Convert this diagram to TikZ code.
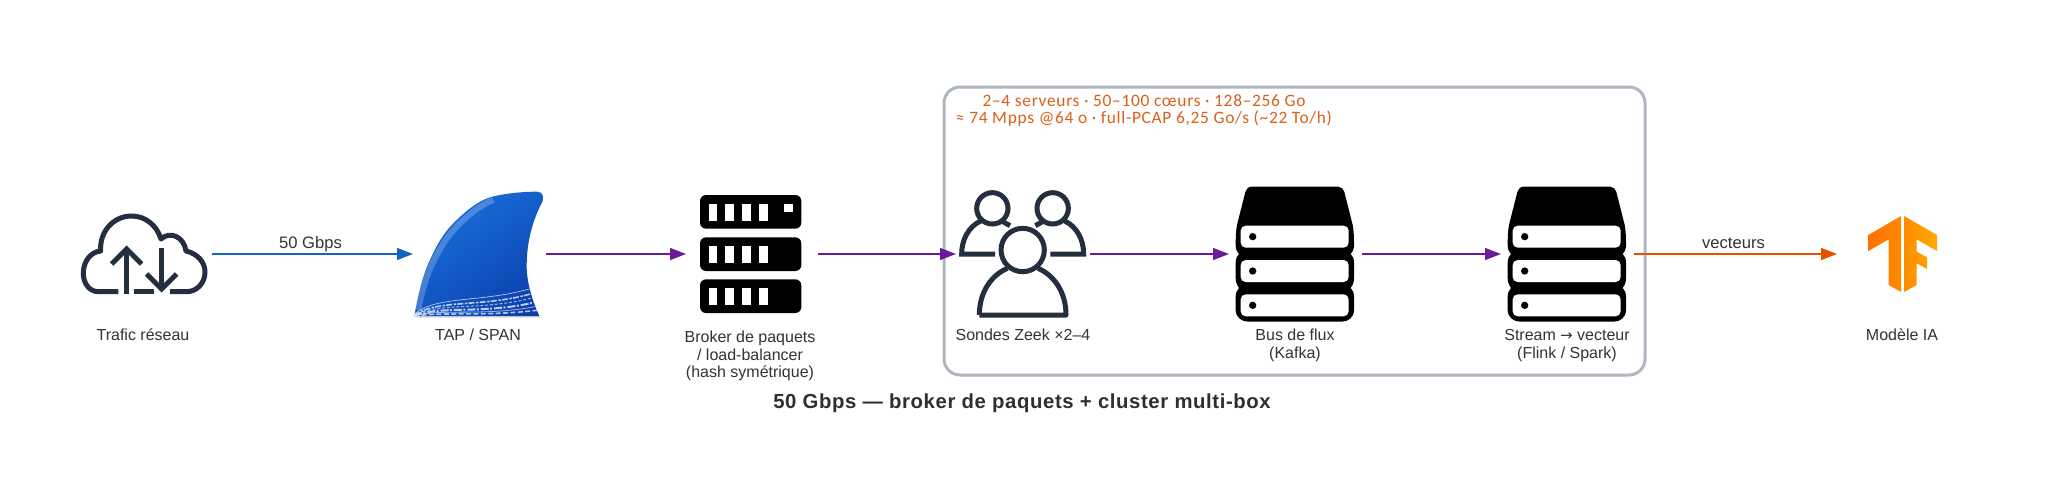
\documentclass[tikz,border=0pt]{standalone}
\usepackage{fontspec}
\setmainfont{Liberation Sans}
\newfontfamily\notefont{Carlito}
\newfontfamily\titlefont[LetterSpace=3]{Liberation Sans}
\newfontfamily\arrowfont{DejaVu Sans}
\usetikzlibrary{arrows.meta,calc}
\definecolor{ink}{HTML}{232F3E}
\definecolor{lbl}{HTML}{333333}
\definecolor{titlecol}{HTML}{2B3033}
\definecolor{notecol}{HTML}{D9601A}
\definecolor{blueflow}{HTML}{1565C0}
\definecolor{purpleflow}{HTML}{6A1B9A}
\definecolor{orangeflow}{HTML}{E65100}
\definecolor{clusterline}{HTML}{AEB6BF}
\definecolor{tfa}{HTML}{FF6F00}
\definecolor{tfb}{HTML}{FFA800}
\definecolor{fintop}{HTML}{1C78E4}
\definecolor{finlow}{HTML}{0A3CA8}
\definecolor{finwave}{HTML}{D8E4F6}
\tikzset{
  zoomed/.style 2 args={shift={(#1,#2)},x=0.166667pt,y=-0.166667pt},
  iconbox/.style={inner sep=0pt,outer sep=0pt,minimum height=66pt,minimum width=#1},
  lab/.style={inner sep=0pt,font=\fontsize{8}{8.7}\selectfont,text=lbl,align=center},
  edgelab/.style={inner sep=0pt,text depth=1.75pt,font=\fontsize{8.3}{9}\selectfont,text=lbl},
  notelab/.style={inner sep=0pt,font=\notefont\addfontfeature{LetterSpace=4}\fontsize{8.7}{10}\selectfont,text=notecol,anchor=base},
  flow/.style={line width=0.7pt,-{Triangle[length=8pt,width=6pt]},draw=#1},
  iconline/.style={draw=ink,line width=2.5pt},
}
\newcommand{\serverstack}[2]{%
  \begin{scope}[zoomed={#1}{#2}]
    \fill[black] (965,320) -- (1225,320) .. controls (1235,320) and (1240,328) .. (1243,336) -- (1268,435) .. controls (1271,450) and (1272,470) .. (1272,495) .. controls (1272,510) and (1266,518) .. (1262,522) .. controls (1268,528) and (1272,535) .. (1272,550) -- (1272,595) .. controls (1272,610) and (1266,618) .. (1262,624) .. controls (1268,630) and (1272,638) .. (1272,650) -- (1272,690) .. controls (1272,712) and (1255,725) .. (1235,725) -- (955,725) .. controls (935,725) and (917,712) .. (917,690) -- (917,650) .. controls (917,638) and (921,630) .. (927,624) .. controls (923,618) and (917,610) .. (917,595) -- (917,550) .. controls (917,535) and (921,528) .. (927,522) .. controls (923,518) and (917,510) .. (917,495) .. controls (917,470) and (918,450) .. (921,435) -- (946,336) .. controls (949,328) and (954,320) .. (965,320) -- cycle;
    \fill[white,rounded corners=2.5pt] (932,437) rectangle (1256,503);
    \fill[white,rounded corners=2.5pt] (932,540) rectangle (1256,606);
    \fill[white,rounded corners=2.5pt] (932,643) rectangle (1256,709);
    \fill[black] (968,470) circle[radius=11];
    \fill[black] (968,573) circle[radius=11];
    \fill[black] (968,676) circle[radius=11];
  \end{scope}}
\begin{document}
\begin{tikzpicture}[x=0.5pt,y=-0.5pt]
\useasboundingbox (0,0) rectangle (2047,498);
\fill[white] (0,0) rectangle (2047,498);
% cluster
\node[draw=clusterline,line width=1.5pt,rounded corners=8pt,inner sep=0pt,minimum width=350.5pt,minimum height=144pt] (cluster) at (1294.5,231) {};
\node[notelab] (note1) at (1144,106) {2–4 serveurs · 50–100 cœurs · 128–256 Go};
\node[notelab] (note2) at (1144,123) {≈ 74 Mpps @64 o · full-PCAP 6,25 Go/s (\textasciitilde22 To/h)};
% anchor boxes
\node[iconbox=69pt] (cloud) at (143,254) {};
\node[iconbox=66.5pt] (fin) at (479.5,254) {};
\node[iconbox=66pt] (broker) at (752,254) {};
\node[iconbox=67pt] (zeek) at (1023,254) {};
\node[iconbox=66.5pt] (kafka) at (1295.5,254) {};
\node[iconbox=66.5pt] (stream) at (1567.5,254) {};
\node[iconbox=65pt] (tf) at (1902,254) {};
% cloud
\begin{scope}[zoomed={60}{170}]
  \draw[iconline,line join=round] (175,365) -- (115,365) .. controls (85,365) and (68,335) .. (70,305) .. controls (72,270) and (95,245) .. (122,243) .. controls (118,185) and (160,138) .. (215,138) .. controls (255,138) and (290,165) .. (303,207) .. controls (330,182) and (372,200) .. (378,243) .. controls (410,250) and (436,275) .. (435,308) .. controls (434,340) and (410,365) .. (380,365) -- (330,365);
  \draw[iconline] (222,365) -- (282,365);
  \draw[iconline] (200,372) -- (200,238);
  \draw[iconline] (155,282) -- (200,237) -- (245,282);
  \draw[iconline] (305,235) -- (305,355);
  \draw[iconline] (260,312) -- (305,357) -- (350,312);
\end{scope}
% fin
\begin{scope}[zoomed={60}{170}]
  \fill[gray!30] (1066,438) -- (1438,438) -- (1446,443) -- (1070,443) -- cycle;
  \begin{scope}
    \clip (1063,438) .. controls (1075,370) and (1090,310) .. (1110,270) .. controls (1130,225) and (1150,190) .. (1180,160) .. controls (1215,125) and (1250,95) .. (1290,82) .. controls (1340,68) and (1400,65) .. (1432,65) .. controls (1450,65) and (1455,85) .. (1442,105) .. controls (1415,160) and (1400,220) .. (1400,290) .. controls (1400,340) and (1420,400) .. (1438,438) -- cycle;
    \shade[top color=fintop,bottom color=finlow,shading angle=35] (1000,0) rectangle (1500,500);
    \draw[white,line width=3pt,opacity=0.22] (1075,420) .. controls (1085,360) and (1105,300) .. (1125,265) .. controls (1145,225) and (1165,195) .. (1195,165) .. controls (1225,135) and (1260,105) .. (1300,90);
    \draw[finwave,line width=0.35pt,opacity=0.8] (1063,432) .. controls (1130,375) and (1270,400) .. (1425,352);
    \draw[finwave,line width=0.8pt,opacity=0.85,dash pattern=on 3pt off 0.8pt on 1.2pt off 0.6pt] (1063,435) .. controls (1140,385) and (1270,415) .. (1425,368);
    \draw[finwave,line width=0.5pt,opacity=0.7,dash pattern=on 1.5pt off 0.9pt] (1063,436) .. controls (1140,395) and (1270,425) .. (1430,380);
    \draw[finwave,line width=1pt,opacity=0.85,dash pattern=on 4pt off 0.7pt on 1pt off 1pt] (1063,437) .. controls (1150,405) and (1270,435) .. (1432,395);
    \draw[finwave,line width=0.4pt,opacity=0.7] (1063,437) .. controls (1150,415) and (1280,440) .. (1435,408);
    \draw[finwave,line width=0.8pt,opacity=0.8,dash pattern=on 2.5pt off 1.2pt] (1063,438) .. controls (1150,425) and (1280,440) .. (1438,420);
  \end{scope}
\end{scope}
% broker
\begin{scope}[zoomed={660}{160}]
  \foreach \y in {105,232,358}{
    \fill[black,rounded corners=3pt] (120,\y) rectangle (424,\y+101);
    \foreach \x in {146,196,247,298}{
      \fill[white] (\x,\y+26) rectangle (\x+26,\y+77);
    }
  }
  \fill[white] (373,131) rectangle (399,157);
\end{scope}
% zeek
\begin{scope}[zoomed={660}{160}]
  \draw[iconline] (997,145) circle[radius=47];
  \draw[iconline] (1178,145) circle[radius=47];
  \draw[iconline] (1005,282) -- (905,282) .. controls (905,240) and (925,200) .. (962,183);
  \draw[iconline] (1025,183) -- (1050,197);
  \draw[iconline] (1171,282) -- (1271,282) .. controls (1271,240) and (1251,200) .. (1214,183);
  \draw[iconline] (1151,183) -- (1126,197);
  \draw[iconline,line join=round] (958,465) .. controls (958,395) and (995,345) .. (1042,325);
  \draw[iconline,line join=round] (1134,325) .. controls (1181,345) and (1218,395) .. (1218,465) -- (958,465);
  \draw[iconline] (1088,270) circle[radius=65];
\end{scope}
% stacks
\serverstack{930}{80}
\serverstack{1202}{80}
% tensorflow
\begin{scope}[zoomed={1480}{170}]
  \shade[left color=tfa,right color=tfb]
    (1263,138) -- (1165,195) -- (1165,243) -- (1226,208) -- (1226,345) -- (1263,366) -- cycle
    (1272,138) -- (1371,195) -- (1371,243) -- (1310,208) -- (1310,245) -- (1341,262) -- (1341,297) -- (1310,280) -- (1310,345) -- (1272,366) -- cycle;
\end{scope}
% connectors
\draw[flow=blueflow] (cloud.east) -- node[edgelab,above=0.5pt,xshift=-1pt] (l1) {50 Gbps} (fin.west);
\draw[flow=purpleflow] (fin.east) -- (broker.west);
\draw[flow=purpleflow] (broker.east) -- (zeek.west);
\draw[flow=purpleflow] (zeek.east) -- (kafka.west);
\draw[flow=purpleflow] (kafka.east) -- (stream.west);
\draw[flow=orangeflow] (stream.east) -- node[edgelab,above=0.5pt,xshift=-1pt] (l2) {vecteurs} (tf.west);
% labels
\node[lab] (t1) at (143,335) {Trafic réseau};
\node[lab] (t2) at (478,335) {TAP / SPAN};
\node[lab] (t3) at (750,356) {Broker de paquets\\/ load-balancer\\(hash symétrique)};
\node[lab] (t4) at (1023,335) {Sondes Zeek ×2–4};
\node[lab] (t5) at (1295,345.5) {Bus de flux\\(Kafka)};
\node[lab] (t6) at (1567,345.5) {Stream {\arrowfont\fontsize{7.4}{8}\selectfont →} vecteur\\(Flink / Spark)};
\node[lab] (t7) at (1902,335) {Modèle IA};
\node[inner sep=0pt,font=\titlefont\bfseries\fontsize{10.15}{12}\selectfont,text=titlecol] (title) at (1022,403.5) {50 Gbps — broker de paquets + cluster multi-box};
\end{tikzpicture}
\end{document}
